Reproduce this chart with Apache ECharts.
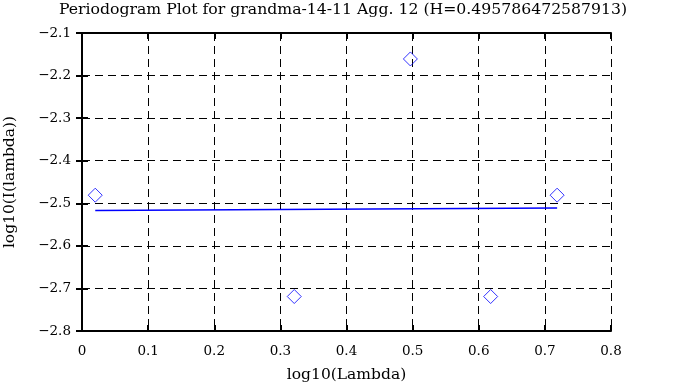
<!DOCTYPE html>
<html><head><meta charset="utf-8">
<script src="https://cdn.jsdelivr.net/npm/echarts@6/dist/echarts.min.js"></script>
<style>html,body{margin:0;padding:0;background:#fff}#c{width:673px;height:387px}</style>
</head><body><div id="c"></div>
<script>
const titleText = 'Periodogram Plot for grandma-14-11 Agg. 12 (H=0.495786472587913)';
const xName = 'log10(Lambda)';
const yName = 'log10(I(lambda))';
const pointX = [0.0200, 0.3210, 0.4966, 0.6180, 0.7185];
const pointY = [-2.481, -2.719, -2.161, -2.719, -2.481];
const fitX = [0.0200, 0.7185];
const fitY = [-2.5168, -2.5109];

const font = 'DejaVu Serif';
const chart = echarts.init(document.getElementById('c'));
const gridLine = {show: true, lineStyle: {color: '#000', type: [8, 5], width: 1}};
const axisLineStyle = {show: true, lineStyle: {color: '#000', width: 2}};
const tickStyle = {show: true, inside: true, length: 6, lineStyle: {color: '#000', width: 2}};
const fmt = v => (Math.round(v * 10) / 10).toString().replace('-', '\u2212');
chart.setOption({
  animation: false,
  backgroundColor: '#fff',
  title: {text: titleText, left: 338, textAlign: 'center', top: -3,
    textStyle: {fontFamily: font, fontSize: 15.7, fontWeight: 'normal', color: '#000'}},
  grid: {left: 82, right: 62, top: 33, bottom: 56, outerBoundsMode: 'none', containLabel: false},
  xAxis: [{
    type: 'value', min: 0, max: 0.8, interval: 0.1, position: 'bottom',
    name: xName, nameLocation: 'middle', nameGap: 36,
    nameTextStyle: {fontFamily: font, fontSize: 15.5, color: '#000'},
    axisLine: axisLineStyle, axisTick: tickStyle, splitLine: gridLine,
    axisLabel: {fontFamily: font, fontSize: 13.5, color: '#000', margin: 13, formatter: fmt}
  }, {
    type: 'value', min: 0, max: 0.8, interval: 0.1, position: 'top',
    axisLine: axisLineStyle, axisTick: tickStyle, splitLine: {show: false}, axisLabel: {show: false}
  }],
  yAxis: [{
    type: 'value', min: -2.8, max: -2.1, interval: 0.1, position: 'left',
    name: yName, nameLocation: 'middle', nameGap: 64, nameRotate: 90,
    nameTextStyle: {fontFamily: font, fontSize: 15.5, color: '#000'},
    axisLine: axisLineStyle, axisTick: tickStyle, splitLine: gridLine,
    axisLabel: {fontFamily: font, fontSize: 13.5, color: '#000', margin: 11, formatter: fmt}
  }, {
    type: 'value', min: -2.8, max: -2.1, interval: 0.1, position: 'right',
    axisLine: axisLineStyle, axisTick: tickStyle, splitLine: {show: false}, axisLabel: {show: false}
  }],
  series: [{
    type: 'line', xAxisIndex: 0, yAxisIndex: 0,
    data: fitX.map((x, i) => [x, fitY[i]]),
    showSymbol: false, lineStyle: {color: '#0000ff', width: 1.5}
  }, {
    type: 'scatter', xAxisIndex: 0, yAxisIndex: 0,
    data: pointX.map((x, i) => [x, pointY[i]]),
    symbol: 'diamond', symbolSize: 14,
    itemStyle: {color: 'rgba(0,0,0,0)', borderColor: '#0000ff', borderWidth: 1}
  }]
});
</script></body></html>
